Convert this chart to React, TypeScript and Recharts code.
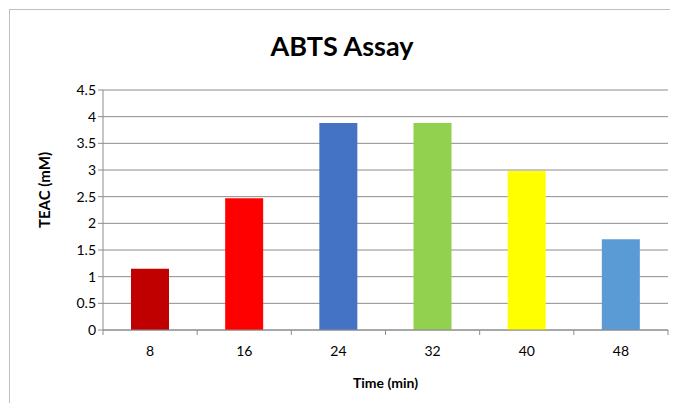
import { BarChart, Bar, XAxis, YAxis, CartesianGrid, Cell } from 'recharts';

const times = ['8', '16', '24', '32', '40', '48'];
const teac = [1.15, 2.47, 3.88, 3.88, 2.98, 1.7];
const barColors = ['#C00000', '#FF0000', '#4472C4', '#92D050', '#FFFF00', '#5B9BD5'];
const yTicks = [0, 0.5, 1, 1.5, 2, 2.5, 3, 3.5, 4, 4.5];

const data = times.map((t, i) => ({ time: t, teac: teac[i] }));

const font = 'Lato, "Open Sans", sans-serif';

// Excel-style category tick: mark between categories, label centred
function TimeTick(props: any) {
  const { x, y, payload, index } = props;
  const half = payload.offset || 0;
  const top = 330;
  return (
    <g>
      <line x1={x - half} x2={x - half} y1={top} y2={top + 5} stroke="#8c8c8c" />
      {index === times.length - 1 && <line x1={x + half} x2={x + half} y1={top} y2={top + 5} stroke="#8c8c8c" />}
      <text x={x} y={y + 18} textAnchor="middle" fill="#000" fontSize={14} fontFamily={font}>
        {payload.value}
      </text>
    </g>
  );
}

export default function App() {
  return (
    <div style={{ position: 'relative', width: 678, height: 411, margin: -8, background: '#fff', fontFamily: font, overflow: 'hidden' }}>
      <div style={{ position: 'absolute', left: 9, top: 9, width: 664, height: 420, border: '1px solid #bfbfbf' }} />
      <div style={{ position: 'absolute', left: 0, width: 684, top: 29, textAlign: 'center', fontSize: 27, fontWeight: 700, color: '#000' }}>
        ABTS Assay
      </div>
      <BarChart width={678} height={411} data={data} margin={{ top: 90, right: 10, left: 43, bottom: 51 }} style={{ position: 'absolute', left: 0, top: 0 }}>
        <CartesianGrid vertical={false} stroke="#8c8c8c" />
        <XAxis
          dataKey="time"
          height={30}
          axisLine={{ stroke: '#8c8c8c' }}
          tickLine={false}
          tick={<TimeTick />}
          interval={0}
          label={{ value: 'Time (min)', position: 'insideBottom', offset: -28, fill: '#000', fontSize: 14, fontWeight: 700 }}
        />
        <YAxis
          width={60}
          domain={[0, 4.5]}
          ticks={yTicks}
          axisLine={{ stroke: '#8c8c8c' }}
          tickLine={{ stroke: '#8c8c8c' }}
          tickSize={5}
          tick={{ fill: '#000', fontSize: 14 }}
          label={{ value: 'TEAC (mM)', angle: -90, position: 'insideLeft', offset: 0, dx: 2, dy: -20, fill: '#000', fontSize: 15, fontWeight: 700, style: { textAnchor: 'middle' } }}
        />
        <Bar dataKey="teac" barSize={38} isAnimationActive={false}>
          {data.map((d, i) => (
            <Cell key={d.time} fill={barColors[i]} />
          ))}
        </Bar>
      </BarChart>
    </div>
  );
}
